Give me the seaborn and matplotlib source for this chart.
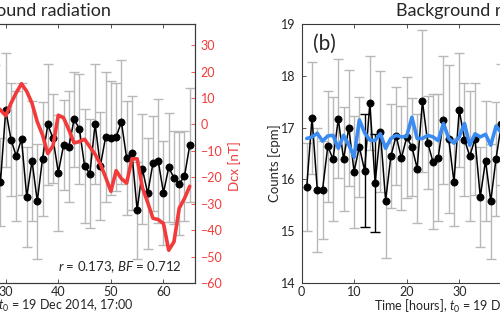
import numpy as np
import pandas as pd
import matplotlib
matplotlib.use("Agg")
import matplotlib.pyplot as plt
import seaborn as sns

# ---------------- data ----------------
hours = list(range(1, 66))
counts = [15.86, 17.19, 15.80, 15.80, 16.64, 16.39, 17.17, 16.39, 17.00, 16.15,
          16.63, 16.17, 17.47, 15.93, 16.92, 15.59, 16.45, 16.84, 16.41, 16.81,
          16.63, 16.21, 17.51, 16.71, 16.34, 16.42, 17.15, 16.78, 15.95, 17.34,
          16.77, 16.45, 16.78, 15.66, 16.36, 15.58, 16.40, 17.06, 16.79, 16.13,
          16.66, 16.63, 17.16, 16.98, 16.26, 16.11, 17.07, 16.26, 16.82, 16.79,
          16.82, 17.11, 16.41, 16.51, 15.40, 16.20, 15.73, 16.31, 16.36, 15.74,
          16.23, 16.03, 15.92, 16.06, 16.66]
count_err = [0.85, 1.08, 1.20, 0.95, 1.07, 1.20, 1.15, 1.00, 1.12, 1.08,
             0.97, 1.09, 0.91, 0.95, 1.17, 1.11, 1.00, 0.95, 1.00, 1.17,
             0.95, 1.05, 1.37, 0.90, 1.30, 1.23, 1.23, 1.43, 0.85, 1.10,
             1.10, 1.25, 1.09, 0.96, 1.16, 1.11, 1.10, 1.17, 0.85, 1.12,
             0.87, 1.07, 0.92, 1.06, 1.10, 1.05, 1.15, 1.05, 1.25, 1.10,
             1.05, 1.20, 1.10, 1.10, 0.93, 1.06, 1.07, 0.92, 1.20, 1.00,
             1.05, 0.90, 1.00, 0.87, 1.10]
dark_err_hours = [12, 14]

dcx_hours = list(range(28, 66))
dcx = [7.0, 5.5, 3.3, 8.0, 12.0, 15.4, 12.5, 8.0, 1.0, -4.0,
       -11.0, -8.0, 3.5, 2.5, -2.0, -7.0, -6.5, -5.6, -8.5, -11.3,
       -15.0, -20.0, -25.3, -17.5, -20.5, -22.2, -13.0, -13.0, -24.0, -29.5,
       -35.5, -36.0, -37.5, -47.6, -44.4, -31.7, -28.0, -23.4]

ref_hours = list(range(1, 39))
ref_counts = [16.79, 16.82, 16.89, 16.74, 16.84, 16.85, 16.60, 16.85, 16.67, 16.43,
              17.15, 16.90, 16.76, 16.75, 16.88, 16.60, 16.79, 16.85, 16.82, 16.83,
              17.20, 16.79, 16.79, 16.85, 16.82, 16.75, 17.08, 16.79, 16.70, 16.82,
              17.08, 16.66, 16.88, 16.82, 16.87, 16.66, 17.03, 16.90]

dcx_ticks = [-60, -50, -40, -30, -20, -10, 0, 10, 20, 30]
count_ticks = [14, 15, 16, 17, 18, 19]
hour_ticks = [0, 10, 20, 30, 40, 50, 60]

title_text = "Background radiation"
xlabel_text = r"Time [hours], $t_0$ = 19 Dec 2014, 17:00"
stat_text = r"$r$ = 0.173, $BF$ = 0.712"

# ---------------- style ----------------
sns.set_style("ticks")
plt.rcParams["font.family"] = ["Lato", "DejaVu Sans"]
plt.rcParams["mathtext.fontset"] = "custom"
plt.rcParams["mathtext.rm"] = "Lato"
plt.rcParams["mathtext.it"] = "Lato:italic"
plt.rcParams["mathtext.bf"] = "Lato:bold"

W, H = 500, 319
fig = plt.figure(figsize=(W / 100, H / 100), dpi=100)
fig.patch.set_facecolor("white")

RED = "#f23a3a"
BLUE = "#3b8cf2"
GRAY = "#b8b8b8"
SPINE = "#3a3a3a"
TXT = "#262626"


def px(x, y):
    return x / W, 1 - y / H


ax_w = 347 / W
ax_b = (H - 283) / H
ax_h = 259 / H
axL = fig.add_axes([-152 / W, ax_b, ax_w, ax_h])
axR = fig.add_axes([301.5 / W, ax_b, ax_w, ax_h])

df = pd.DataFrame({"hour": hours, "counts": counts, "err": count_err})
dfd = pd.DataFrame({"hour": dcx_hours, "dcx": dcx})
dfr = pd.DataFrame({"hour": ref_hours, "ref": ref_counts})

dark_mask = df["hour"].isin(dark_err_hours)


def draw_counts(ax):
    ax.errorbar(df["hour"][~dark_mask], df["counts"][~dark_mask],
                yerr=df["err"][~dark_mask], fmt="none", ecolor=GRAY,
                elinewidth=1.0, capsize=3.4, capthick=1.0, zorder=1)
    ax.errorbar(df["hour"][dark_mask], df["counts"][dark_mask],
                yerr=df["err"][dark_mask], fmt="none", ecolor="black",
                elinewidth=1.0, capsize=3.4, capthick=1.0, zorder=1.5)
    sns.lineplot(data=df, x="hour", y="counts", ax=ax, color="black",
                 linewidth=1.1, marker="o", markersize=5.2,
                 markeredgecolor="black", markeredgewidth=0.5, zorder=2)


def style_axis(ax):
    ax.set_xlim(0, 66)
    ax.set_ylim(14, 19)
    ax.set_xticks(hour_ticks)
    ax.set_yticks(count_ticks)
    for s in ax.spines.values():
        s.set_visible(True)
        s.set_color(SPINE)
        s.set_linewidth(0.8)
    ax.tick_params(axis="both", direction="in", length=3, width=0.6,
                   colors=SPINE, labelcolor=TXT, labelsize=9)
    ax.tick_params(axis="x", top=True, pad=2.5)
    ax.tick_params(axis="y", pad=4)
    ax.set_xlabel("")
    ax.set_ylabel("")
    ax.set_facecolor("white")


# left panel
draw_counts(axL)
style_axis(axL)
axL.tick_params(axis="y", right=False)
axL2 = axL.twinx()
sns.lineplot(data=dfd, x="hour", y="dcx", ax=axL2, color=RED, linewidth=2.6)
axL2.set_ylim(-60, 38)
axL2.set_yticks(dcx_ticks)
axL2.tick_params(axis="y", direction="in", length=3, width=0.6, colors=RED,
                 labelcolor=RED, labelsize=9, pad=4)
axL2.set_ylabel("")
for s in axL2.spines.values():
    s.set_color(SPINE)
    s.set_linewidth(0.8)
axL2.set_xlim(0, 66)

# right panel
draw_counts(axR)
sns.lineplot(data=dfr, x="hour", y="ref", ax=axR, color=BLUE, linewidth=2.6, zorder=3)
style_axis(axR)
axR.tick_params(axis="y", right=True)

# texts
fig.text(*px(111, 16), title_text, ha="right", va="baseline", fontsize=13, color=TXT)
fig.text(*px(396, 16), title_text, ha="left", va="baseline", fontsize=13, color=TXT)
fig.text(*px(133, 310), xlabel_text, ha="right", va="baseline", fontsize=9, color=TXT)
fig.text(*px(374, 311), xlabel_text, ha="left", va="baseline", fontsize=9, color=TXT)
fig.text(*px(182, 271.5), stat_text, ha="right", va="baseline", fontsize=9.5, color=TXT)
fig.text(*px(313, 50), "(b)", ha="left", va="baseline", fontsize=15, color=TXT)
fig.text(*px(275, 163), "Counts [cpm]", rotation=90, ha="center", va="center",
         fontsize=9.5, color=TXT)
fig.text(*px(235, 166), "Dcx [nT]", rotation=90, ha="center", va="center",
         fontsize=9.5, color=RED)

fig.savefig("out.png", dpi=100, facecolor="white")
